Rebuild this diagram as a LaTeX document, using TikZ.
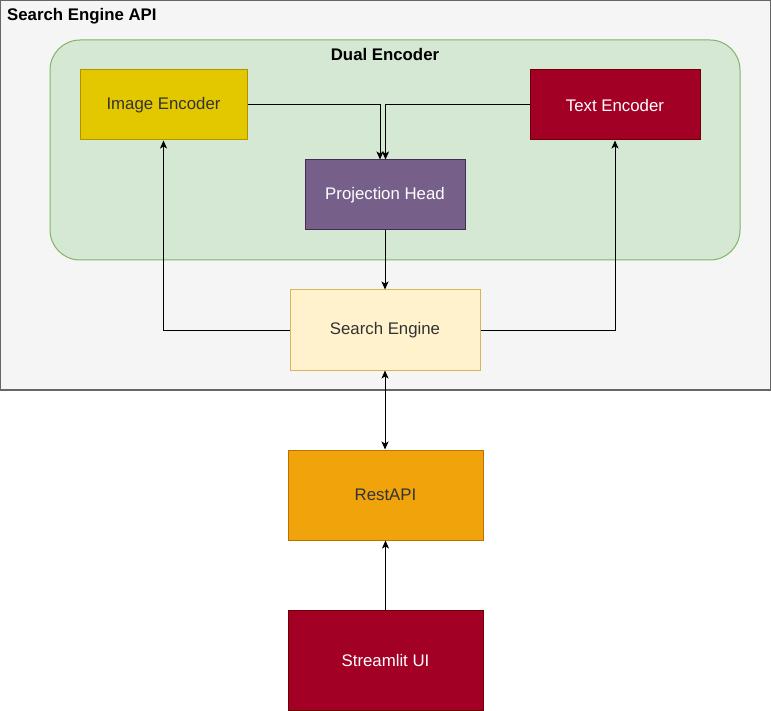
\documentclass[tikz,border=0pt]{standalone}
\usepackage{fontspec}
\setmainfont{Liberation Sans}
\usetikzlibrary{arrows.meta,calc}
\definecolor{outerfill}{HTML}{F5F5F5}
\definecolor{outerdraw}{HTML}{666666}
\definecolor{greenfill}{HTML}{D5E8D4}
\definecolor{greendraw}{HTML}{82B366}
\definecolor{yellowfill}{HTML}{E3C800}
\definecolor{yellowdraw}{HTML}{B09500}
\definecolor{redfill}{HTML}{A20025}
\definecolor{reddraw}{HTML}{6F0000}
\definecolor{purplefill}{HTML}{76608A}
\definecolor{purpledraw}{HTML}{432D57}
\definecolor{creamfill}{HTML}{FFF2CC}
\definecolor{creamdraw}{HTML}{D6B656}
\definecolor{orangefill}{HTML}{F0A30A}
\definecolor{orangedraw}{HTML}{BD7000}
\definecolor{darktext}{HTML}{333333}
\tikzset{
  x=1pt, y=1pt,
  box/.style={rectangle, line width=1pt, inner sep=0pt, font=\fontsize{16.8}{19}\selectfont},
  conn/.style={line width=1pt, draw=black, -{Stealth[length=8pt,width=7pt,inset=2pt]}},
  biconn/.style={line width=1pt, draw=black, {Stealth[length=8pt,width=7pt,inset=2pt]}-{Stealth[length=8pt,width=7pt,inset=2pt]}},
  title/.style={font=\bfseries\fontsize{16.8}{19}\selectfont, inner sep=0pt}
}
\begin{document}
\begin{tikzpicture}
\useasboundingbox (0,0) rectangle (771,-711);
\fill[white] (0,0) rectangle (771,-711);
% outer container
\draw[fill=outerfill, draw=outerdraw, line width=1.2pt] (0.6,-0.6) rectangle (770.4,-390);
\node[title, anchor=west] (apititle) at (7,-16) {Search Engine API};
% dual encoder container
\draw[fill=greenfill, draw=greendraw, line width=1pt, rounded corners=30pt] (50,-40) rectangle (740,-260);
\node[title] (dualtitle) at (385,-54) {Dual Encoder};
% nodes
\node[box, fill=yellowfill, draw=yellowdraw, text=darktext, minimum width=167pt, minimum height=70pt] (ie) at (163.5,-105) {Image Encoder};
\node[box, fill=redfill, draw=reddraw, text=white, minimum width=170pt, minimum height=70pt] (te) at (615,-105) {Text Encoder};
\node[box, fill=purplefill, draw=purpledraw, text=white, minimum width=160pt, minimum height=70pt] (ph) at (385,-195) {Projection Head};
\node[box, fill=creamfill, draw=creamdraw, text=darktext, minimum width=190pt, minimum height=80pt] (se) at (385,-330) {Search Engine};
\node[box, fill=orangefill, draw=orangedraw, text=darktext, minimum width=195pt, minimum height=90pt] (api) at (385.5,-495) {RestAPI};
\node[box, fill=redfill, draw=reddraw, text=white, minimum width=195pt, minimum height=100pt] (ui) at (385.5,-660) {Streamlit UI};
% connectors
\draw[conn] (ie.east) -| ([xshift=-5pt]ph.north);
\draw[conn] (te.west) -| ([xshift=0.5pt]ph.north);
\draw[conn] (ph.south) -- (se.north);
\draw[conn] (se.west) -| (ie.south);
\draw[conn] (se.east) -| (te.south);
\draw[biconn] (se.south) -- (se.south |- api.north);
\draw[conn] (ui.north) -- (ui.north |- api.south);
\end{tikzpicture}
\end{document}
